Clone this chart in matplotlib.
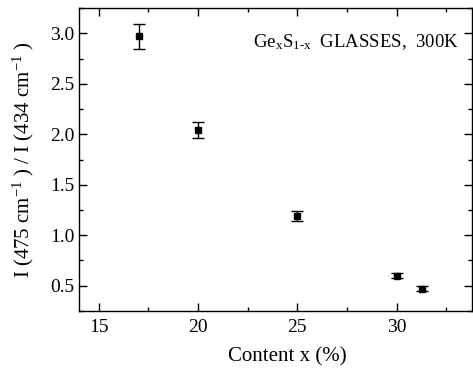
import matplotlib
matplotlib.use("Agg")
import matplotlib.pyplot as plt
from matplotlib.ticker import MultipleLocator

# Intensity ratio of Raman bands vs Ge content
content_x = [17.0, 20.0, 25.0, 30.0, 31.3]
ratio = [2.97, 2.04, 1.19, 0.60, 0.47]
ratio_err = [0.125, 0.08, 0.045, 0.028, 0.025]

plt.rcParams['font.family'] = ['Liberation Serif', 'DejaVu Serif']
plt.rcParams['mathtext.fontset'] = 'custom'
plt.rcParams['mathtext.rm'] = 'Liberation Serif'
plt.rcParams['mathtext.it'] = 'Liberation Serif:italic'

fig = plt.figure(figsize=(4.73, 3.71), dpi=100)
ax = fig.add_axes([0.167, 0.162, 0.831, 0.816])

ax.errorbar(content_x, ratio, yerr=ratio_err, fmt='s', color='black',
            markersize=5, capsize=4, elinewidth=1, capthick=1)

ax.set_xlim(14, 33.8)
ax.set_ylim(0.25, 3.25)
ax.xaxis.set_major_locator(MultipleLocator(5))
ax.xaxis.set_minor_locator(MultipleLocator(2.5))
ax.yaxis.set_major_locator(MultipleLocator(0.5))
ax.yaxis.set_minor_locator(MultipleLocator(0.25))
ax.tick_params(which='both', direction='in', top=True, right=True,
               labelsize=14, width=1)
ax.tick_params(axis='x', pad=6)
ax.tick_params(which='major', length=6)
ax.tick_params(which='minor', length=3)
for s in ax.spines.values():
    s.set_linewidth(1)

ax.set_xlabel('Content x (%)', fontsize=15)
ax.xaxis.set_label_coords(0.53, -0.12)
ax.set_ylabel(r'I (475 cm$^{\mathrm{-1}}$ ) / I (434 cm$^{\mathrm{-1}}$ )', fontsize=15)
ax.yaxis.set_label_coords(-0.11, 0.5)

ax.text(0.965, 0.92, r'Ge$_{\mathrm{x}}$S$_{\mathrm{1\text{-}x}}$  GLASSES,  300K',
        transform=ax.transAxes, ha='right', va='top', fontsize=13.5)

fig.savefig('out.png', dpi=100)
